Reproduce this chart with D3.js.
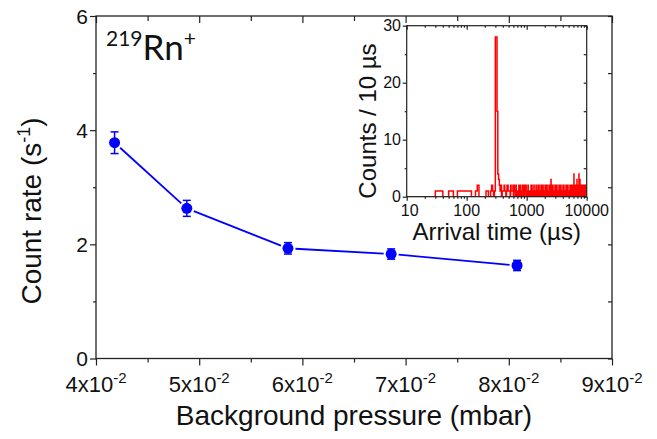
<!DOCTYPE html>
<html><head><meta charset="utf-8">
<script src="https://cdn.jsdelivr.net/npm/d3@7"></script>
<style>
body{margin:0;background:#fff}
svg{display:block}
text{font-family:"Liberation Sans",Arial,sans-serif;fill:#111}
</style>
</head><body>
<svg id="c" width="657" height="439"></svg>
<script>
// ---- main chart data ----
const pressure   = [0.0418, 0.0488, 0.0586, 0.0686, 0.0808];   // mbar
const countRate  = [3.78, 2.63, 1.93, 1.83, 1.63];             // s^-1
const countErr   = [0.19, 0.14, 0.10, 0.09, 0.09];
const xMajorTicks = [0.04, 0.05, 0.06, 0.07, 0.08, 0.09];
const xTickMantissa = ["4", "5", "6", "7", "8", "9"];
const xMinorTicks = [0.045, 0.055, 0.065, 0.075, 0.085];
const yMajorTicks = [0, 2, 4, 6];
const yMinorTicks = [1, 3, 5];

// ---- inset histogram data (bin start in µs, counts per 10 µs bin) ----
const earlyBinStart = [30,50,70,80,90,100,110,140,150,210,220,250,260,270,290,300,310,320,330,340,350,360,370,390,400,410,420,430,440,460,470,480,490,500,510,520,540,550,560,570,580,590,610,620,630,640,660,670,690,700,710,720,740,750,770,780,790,800,820,830,840,850,860,880,890,900,910,920,940,950,960,970,980,990];
const earlyBinCount = [1,1,1,1,1,1,1,1,2,1,1,1,2,1,1,28,28,15,4,3,2,1,2,1,1,1,2,1,1,1,2,2,1,1,1,1,2,1,1,1,1,2,2,1,1,1,2,1,1,1,1,1,2,1,2,1,1,1,1,1,2,2,1,1,1,1,2,1,1,1,1,2,1,1];
const lateBinStart = [1010,1050,1090,1130,1180,1220,1270,1320,1370,1430,1480,1540,1600,1660,1730,1800,1870,1940,2020,2100,2180,2260,2350,2440,2540,2640,2740,2850,2960,3070,3190,3320,3450,3580,3720,3870,4020,4180,4340,4510,4690,4870,5060,5260,5470,5680,5900,6130,6370,6620,6880,7150,7430,7720,8020,8340,8660,9000,9350,9720];
const lateBinCount = [1,2,1,1,2,2,1,2,1,2,1,2,2,1,2,2,2,1,2,2,2,1,2,2,3,2,2,1,2,2,2,1,2,2,2,1,2,2,1,2,2,2,1,2,2,2,2,4,2,2,3,2,4,3,2,2,2,2,2,2];
const insetXTicks = [10, 100, 1000, 10000];
const insetXMinor = [20,30,40,50,60,70,80,90,200,300,400,500,600,700,800,900,2000,3000,4000,5000,6000,7000,8000,9000];
const insetYTicks = [0, 10, 20, 30];
const insetYMinor = [5, 15, 25];

const svg = d3.select("#c");
const frameColor = "#222";

// ---- main scales ----
const x = d3.scaleLinear().domain([0.04, 0.09]).range([96, 612]);
const y = d3.scaleLinear().domain([0, 6]).range([358.5, 16]);

function styleAxis(g){
  g.select(".domain").remove();
  g.selectAll(".tick line").attr("stroke", frameColor).attr("stroke-width", 1.2);
  g.selectAll(".tick text").remove();
}
// bottom
svg.append("g").attr("transform", `translate(0,${y(0)})`)
  .call(d3.axisBottom(x).tickValues(xMajorTicks).tickSize(7)).call(styleAxis);
svg.append("g").attr("transform", `translate(0,${y(0)})`)
  .call(d3.axisBottom(x).tickValues(xMinorTicks).tickSize(4)).call(styleAxis);
// top (inward)
svg.append("g").attr("transform", `translate(0,${y(6)})`)
  .call(d3.axisTop(x).tickValues(xMajorTicks).tickSize(-7)).call(styleAxis);
svg.append("g").attr("transform", `translate(0,${y(6)})`)
  .call(d3.axisTop(x).tickValues(xMinorTicks).tickSize(-5)).call(styleAxis);
// left
svg.append("g").attr("transform", `translate(${x(0.04)},0)`)
  .call(d3.axisLeft(y).tickValues(yMajorTicks).tickSize(6)).call(styleAxis);
svg.append("g").attr("transform", `translate(${x(0.04)},0)`)
  .call(d3.axisLeft(y).tickValues(yMinorTicks).tickSize(3)).call(styleAxis);
// right (inward)
svg.append("g").attr("transform", `translate(${x(0.09)},0)`)
  .call(d3.axisRight(y).tickValues(yMajorTicks.concat(yMinorTicks)).tickSize(-4)).call(styleAxis);

// frame
svg.append("rect").attr("x", x(0.04)).attr("y", y(6))
  .attr("width", x(0.09) - x(0.04)).attr("height", y(0) - y(6))
  .attr("fill", "none").attr("stroke", frameColor).attr("stroke-width", 1.3);

// x tick labels
xMajorTicks.forEach((v, i) => {
  const t = svg.append("text").attr("x", x(v)).attr("y", 392)
    .attr("text-anchor", "middle").attr("font-size", 22);
  t.append("tspan").text(xTickMantissa[i] + "x10");
  t.append("tspan").attr("dy", -9).attr("font-size", 15).text("-2");
});
// y tick labels
yMajorTicks.forEach(v => {
  svg.append("text").attr("x", 88).attr("y", y(v) + 7.5)
    .attr("text-anchor", "end").attr("font-size", 21).text(v);
});

// axis titles
svg.append("text").attr("x", 354).attr("y", 425).attr("text-anchor", "middle")
  .attr("font-size", 28).text("Background pressure (mbar)");
const yt = svg.append("text").attr("transform", "translate(41,211) rotate(-90)")
  .attr("text-anchor", "middle").attr("font-size", 28);
yt.append("tspan").text("Count rate (s");
yt.append("tspan").attr("dy", -11).attr("font-size", 18).text("-1");
yt.append("tspan").attr("dy", 11).text(")");

// isotope label
const iso = svg.append("text").attr("x", 106).attr("y", 60)
  .style("font-family", "Lato, 'Open Sans', sans-serif");
iso.append("tspan").attr("font-size", 21).attr("dy", -14).text("219");
iso.append("tspan").attr("font-size", 35).attr("dy", 14).text("Rn");
iso.append("tspan").attr("font-size", 21).attr("dy", -14).text("+");

// ---- main data ----
const blue = "#0000ff";
const pts = pressure.map((p, i) => ({x: x(p), y: y(countRate[i]), e: countErr[i], v: countRate[i]}));
const r = 5.5;
for (let i = 0; i < pts.length - 1; i++) {
  const a = pts[i], b = pts[i + 1];
  const dx = b.x - a.x, dy = b.y - a.y, L = Math.hypot(dx, dy);
  const g = r + 2;
  svg.append("line")
    .attr("x1", a.x + dx / L * g).attr("y1", a.y + dy / L * g)
    .attr("x2", b.x - dx / L * g).attr("y2", b.y - dy / L * g)
    .attr("stroke", blue).attr("stroke-width", 1.8);
}
pts.forEach(p => {
  const top = y(p.v + p.e), bot = y(p.v - p.e);
  svg.append("line").attr("x1", p.x).attr("x2", p.x).attr("y1", top).attr("y2", bot)
    .attr("stroke", blue).attr("stroke-width", 1.5);
  [top, bot].forEach(yy => svg.append("line").attr("x1", p.x - 4).attr("x2", p.x + 4)
    .attr("y1", yy).attr("y2", yy).attr("stroke", blue).attr("stroke-width", 1.5));
  svg.append("circle").attr("cx", p.x).attr("cy", p.y).attr("r", r).attr("fill", blue);
});

// ---- inset ----
const ix = d3.scaleLog().domain([10, 10000]).range([406.7, 586.7]);
const iy = d3.scaleLinear().domain([0, 30]).range([196.7, 25.7]);

svg.append("rect").attr("x", ix(10)).attr("y", iy(30))
  .attr("width", ix(10000) - ix(10)).attr("height", iy(0) - iy(30)).attr("fill", "#fff");

svg.append("clipPath").attr("id", "ic").append("rect")
  .attr("x", ix(10)).attr("y", iy(30) - 2).attr("width", ix(10000) - ix(10)).attr("height", iy(0) - iy(30) + 2);

const bins = earlyBinStart.map((s, i) => [s, earlyBinCount[i]])
  .concat(lateBinStart.map((s, i) => [s, lateBinCount[i]]));
const hp = [[10, 0]];
let cur = 10;
bins.forEach(([s, c]) => {
  if (s > cur) { hp.push([cur, 0]); hp.push([s, 0]); }
  hp.push([s, c]); hp.push([s + 10, c]);
  cur = s + 10;
});
hp.push([cur, 0]); hp.push([10000, 0]);
svg.append("path").attr("clip-path", "url(#ic)")
  .attr("d", d3.line().x(d => ix(d[0])).y(d => iy(d[1]))(hp))
  .attr("fill", "none").attr("stroke", "#ff0000").attr("stroke-width", 1.5);

// inset axes
svg.append("g").attr("transform", `translate(0,${iy(0)})`)
  .call(d3.axisBottom(ix).tickValues(insetXTicks).tickSize(4)).call(styleAxis);
svg.append("g").attr("transform", `translate(0,${iy(0)})`)
  .call(d3.axisBottom(ix).tickValues(insetXMinor).tickSize(2)).call(styleAxis);
svg.append("g").attr("transform", `translate(0,${iy(30)})`)
  .call(d3.axisTop(ix).tickValues(insetXTicks).tickSize(-4)).call(styleAxis);
svg.append("g").attr("transform", `translate(0,${iy(30)})`)
  .call(d3.axisTop(ix).tickValues(insetXMinor).tickSize(-2)).call(styleAxis);
svg.append("g").attr("transform", `translate(${ix(10)},0)`)
  .call(d3.axisLeft(iy).tickValues(insetYTicks).tickSize(4)).call(styleAxis);
svg.append("g").attr("transform", `translate(${ix(10)},0)`)
  .call(d3.axisLeft(iy).tickValues(insetYMinor).tickSize(2)).call(styleAxis);
svg.append("g").attr("transform", `translate(${ix(10000)},0)`)
  .call(d3.axisRight(iy).tickValues(insetYTicks.concat(insetYMinor)).tickSize(-3)).call(styleAxis);

svg.append("rect").attr("x", ix(10)).attr("y", iy(30))
  .attr("width", ix(10000) - ix(10)).attr("height", iy(0) - iy(30))
  .attr("fill", "none").attr("stroke", frameColor).attr("stroke-width", 1.2);

insetXTicks.forEach((v, i) => {
  svg.append("text").attr("x", ix(v) + (i === 0 ? 3 : 0)).attr("y", 216).attr("text-anchor", "middle")
    .attr("font-size", 16).text(v);
});
insetYTicks.forEach(v => {
  svg.append("text").attr("x", 401).attr("y", iy(v) + 5.5).attr("text-anchor", "end")
    .attr("font-size", 16).text(v);
});
svg.append("text").attr("x", ix(Math.sqrt(10 * 10000))).attr("y", 240).attr("text-anchor", "middle")
  .attr("font-size", 24).text("Arrival time (µs)");
svg.append("text").attr("transform", "translate(376,121) rotate(-90)").attr("text-anchor", "middle")
  .attr("font-size", 24).text("Counts / 10 µs");
</script>
</body></html>
